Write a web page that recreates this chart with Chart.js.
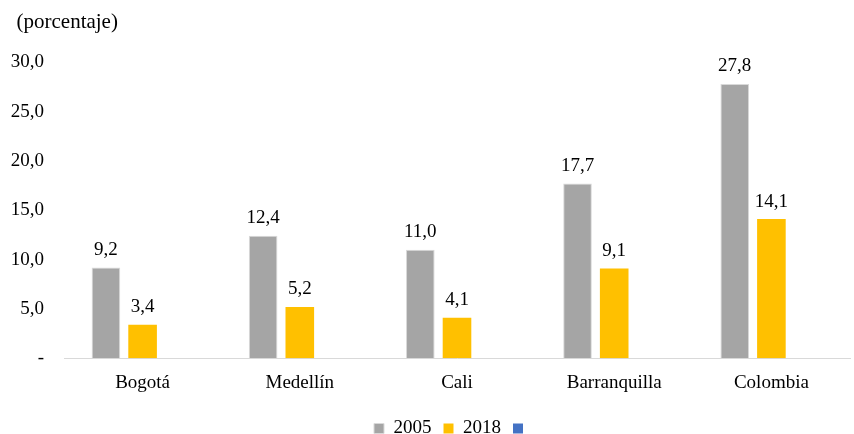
<!DOCTYPE html>
<html lang="es">
<head>
  <meta charset="UTF-8">
  <title>Porcentaje por ciudad</title>
  <script src="https://cdn.jsdelivr.net/npm/chart.js"></script>
  <style>
    html, body { margin: 0; padding: 0; background: #fff; }
    #wrap { width: 854px; height: 434px; }
  </style>
</head>
<body>
  <div id="wrap"><canvas id="grafico" width="854" height="434"></canvas></div>

  <script>
    // Datos
    const ciudades = ['Bogotá', 'Medellín', 'Cali', 'Barranquilla', 'Colombia'];
    const serie2005 = [9.2, 12.4, 11.0, 17.7, 27.8];
    const serie2018 = [3.4, 5.2, 4.1, 9.1, 14.1];
    const serieVacia = [null, null, null, null, null];

    const FUENTE = '"Liberation Serif", "Times New Roman", serif';

    const fmt = v => v.toFixed(1).replace('.', ',');

    // Etiquetas de valor sobre las barras
    const etiquetas = {
      id: 'etiquetas',
      afterDatasetsDraw(chart) {
        const ctx = chart.ctx;
        ctx.save();
        ctx.font = '19px ' + FUENTE;
        ctx.fillStyle = '#000';
        ctx.textAlign = 'center';
        ctx.textBaseline = 'bottom';
        chart.data.datasets.forEach((ds, i) => {
          const meta = chart.getDatasetMeta(i);
          meta.data.forEach((bar, j) => {
            const v = ds.data[j];
            if (v == null) return;
            ctx.fillText(fmt(v), bar.x, bar.y - 8);
          });
        });
        ctx.restore();
      }
    };

    const ctx = document.getElementById('grafico').getContext('2d');
    new Chart(ctx, {
      type: 'bar',
      data: {
        labels: ciudades,
        datasets: [
          {
            label: '2005',
            data: serie2005,
            backgroundColor: '#a5a5a5',
            borderColor: '#d9d9d9',
            borderWidth: 1,
            barPercentage: 0.78,
            categoryPercentage: 0.70
          },
          {
            label: '2018',
            data: serie2018,
            backgroundColor: '#ffc000',
            borderColor: '#ffc000',
            borderWidth: 0,
            barPercentage: 0.78,
            categoryPercentage: 0.70
          },
          {
            label: '',
            data: serieVacia,
            backgroundColor: '#4472c4',
            borderWidth: 0,
            barPercentage: 0.78,
            categoryPercentage: 0.70
          }
        ]
      },
      options: {
        responsive: false,
        animation: false,
        devicePixelRatio: 1,
        layout: { padding: { left: 6, right: 4, top: 8, bottom: -14 } },
        plugins: {
          title: {
            display: true,
            text: '\u00a0\u00a0(porcentaje)',
            align: 'start',
            color: '#000',
            font: { family: FUENTE, size: 21, weight: 'normal' },
            padding: { top: 2, bottom: 27 }
          },
          legend: {
            position: 'bottom',
            labels: {
              color: '#000',
              font: { family: FUENTE, size: 19 },
              boxWidth: 10,
              boxHeight: 10,
              padding: 12,
              // hueco invisible a la izquierda para correr la leyenda a la derecha
              generateLabels(chart) {
                const items = Chart.defaults.plugins.legend.labels.generateLabels(chart);
                items.unshift({
                  text: '\u00a0\u00a0\u00a0\u00a0',
                  fillStyle: 'rgba(0,0,0,0)',
                  strokeStyle: 'rgba(0,0,0,0)',
                  lineWidth: 0,
                  hidden: false,
                  datasetIndex: -1
                });
                return items;
              }
            }
          },
          tooltip: { enabled: false }
        },
        scales: {
          x: {
            grid: { display: false, drawTicks: false },
            border: { color: '#d9d9d9', width: 1 },
            ticks: {
              color: '#000',
              font: { family: FUENTE, size: 19 },
              padding: 13
            }
          },
          y: {
            min: 0,
            max: 30,
            grid: { display: false, drawTicks: false },
            border: { display: false },
            ticks: {
              stepSize: 5,
              color: '#000',
              font: { family: FUENTE, size: 19 },
              padding: 20,
              callback: v => v === 0 ? '-' : fmt(v)
            },
            afterFit(scale) { scale.width = 58; }
          }
        }
      },
      plugins: [etiquetas]
    });
  </script>
</body>
</html>
